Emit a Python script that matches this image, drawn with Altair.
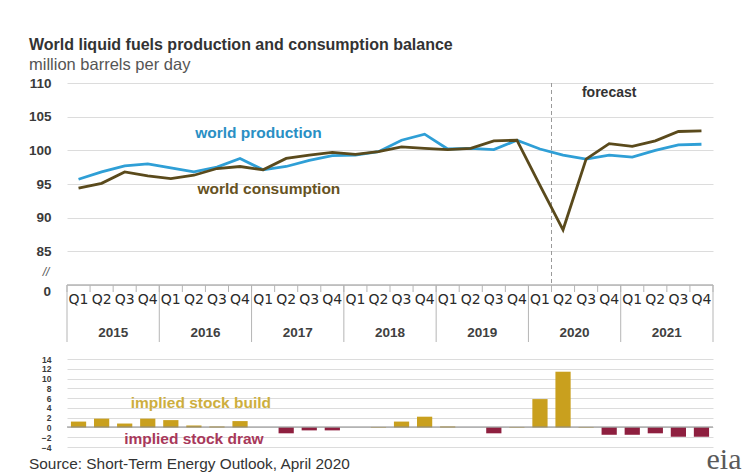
import altair as alt
import pandas as pd

# ---------------- data ----------------
years = [2015, 2016, 2017, 2018, 2019, 2020, 2021]
quarter_names = ["Q1", "Q2", "Q3", "Q4"]

production = [95.7, 96.8, 97.7, 98.0,
              97.4, 96.8, 97.5, 98.8,
              97.1, 97.6, 98.5, 99.2,
              99.3, 99.8, 101.5, 102.4,
              100.2, 100.3, 100.1, 101.5,
              100.2, 99.3, 98.7, 99.3,
              99.0, 100.0, 100.8, 100.9]

consumption = [94.4, 95.1, 96.8, 96.2,
               95.8, 96.3, 97.3, 97.6,
               97.1, 98.8, 99.3, 99.7,
               99.4, 99.8, 100.5, 100.3,
               100.1, 100.3, 101.4, 101.5,
               94.8, 88.2, 98.7, 101.0,
               100.6, 101.4, 102.8, 102.9]

balance = [1.2, 1.8, 0.8, 1.8,
           1.5, 0.4, 0.2, 1.3,
           0.0, -1.2, -0.6, -0.6,
           0.0, 0.1, 1.2, 2.2,
           0.2, 0.0, -1.2, 0.1,
           5.8, 11.4, 0.1, -1.5,
           -1.5, -1.2, -1.9, -1.9]

top_ticks = [80, 85, 90, 95, 100, 105, 110]
bottom_ticks = [-4, -2, 0, 2, 4, 6, 8, 10, 12, 14]

forecast_boundary = 20.5  # between 2020 Q1 and 2020 Q2

# colours
BLUE = "#2f9fd6"
BROWN = "#5a4a1c"
GOLD = "#c9a01e"
MAROON = "#8e1f3f"
GRID = "#dcdcdc"
AXIS = "#b5b5b5"
FONT = "Liberation Sans"

n = len(production)
df = pd.DataFrame({
    "i": list(range(n)),
    "q": [quarter_names[k % 4] for k in range(n)],
    "year": [years[k // 4] for k in range(n)],
    "production": production,
    "consumption": consumption,
    "balance": balance,
})
sep_df = pd.DataFrame({"k": list(range(n + 1))})
year_df = pd.DataFrame({"year": years})
one = pd.DataFrame({"a": [0]})

xscale = alt.Scale(domain=[-0.5, n - 0.5], nice=False, zero=False)
X = alt.X("i:Q", scale=xscale, axis=None)

# ---------------- top panel ----------------
ytop_scale = alt.Scale(domain=[80, 110], nice=False, zero=False)
ytop_axis = alt.Axis(values=top_ticks, labelExpr="datum.value == 80 ? '' : datum.label",
                     grid=True, gridColor=GRID, domain=False, ticks=False, title=None,
                     labelFontSize=13.5, labelFontWeight="bold", labelColor="#3a3a3a",
                     labelPadding=16, labelFont=FONT)
ytop = alt.Y("value:Q", scale=ytop_scale, axis=ytop_axis)

base = alt.Chart(df)

lines = base.transform_fold(["production", "consumption"], as_=["series", "value"]).mark_line(
    strokeWidth=2.8
).encode(
    x=X, y=ytop,
    color=alt.Color("series:N", scale=alt.Scale(domain=["production", "consumption"],
                                                range=[BLUE, BROWN]), legend=None),
)

axis_line = alt.Chart(one).mark_rule(color=AXIS, strokeWidth=1.5).encode(
    x=alt.value(0), x2=alt.value(646), y=alt.value(202)
)

forecast_rule = alt.Chart(one).transform_calculate(fx=str(forecast_boundary)).mark_rule(
    color="#9a9a9a", strokeDash=[4, 3], strokeWidth=1
).encode(x=alt.X("fx:Q", scale=xscale, axis=None), y=alt.value(0), y2=alt.value(202))

q_ticks = alt.Chart(sep_df).transform_calculate(b="datum.k - 0.5").mark_rule(
    color=AXIS, strokeWidth=1
).encode(x=alt.X("b:Q", scale=xscale, axis=None), y=alt.value(202), y2=alt.value(209))

year_ticks = alt.Chart(sep_df).transform_filter("datum.k % 4 == 0").transform_calculate(
    b="datum.k - 0.5").mark_rule(color=AXIS, strokeWidth=1).encode(
    x=alt.X("b:Q", scale=xscale, axis=None), y=alt.value(202), y2=alt.value(259))

q_labels = base.mark_text(fontSize=14, font="DejaVu Sans", color="#2a2a2a", baseline="middle").encode(
    x=X, y=alt.value(217), text="q:N")

year_labels = alt.Chart(year_df).transform_calculate(xc="(datum.year - 2015) * 4 + 1.5").mark_text(
    fontSize=13.5, font=FONT, fontWeight="bold", color="#404040", baseline="middle").encode(
    x=alt.X("xc:Q", scale=xscale, axis=None), y=alt.value(250), text="year:N")


def note(text, xv, yv, color, yfield, yscale, yaxis, size=15.5, weight="bold"):
    return alt.Chart(one).transform_calculate(nx=str(xv), **{yfield: str(yv)}).mark_text(
        text=text, color=color, fontSize=size, fontWeight=weight, font=FONT, baseline="middle"
    ).encode(x=alt.X("nx:Q", scale=xscale, axis=None),
             y=alt.Y(f"{yfield}:Q", scale=yscale, axis=yaxis))


t_prod = note("world production", 7.8, 102.6, "#2a8fc4", "value", ytop_scale, ytop_axis)
t_cons = note("world consumption", 8.25, 94.25, "#665222", "value", ytop_scale, ytop_axis)
t_fore = note("forecast", 23.0, 108.5, "#333333", "value", ytop_scale, ytop_axis, size=14)

title = alt.Chart(one).mark_text(
    text="World liquid fuels production and consumption balance", align="left", baseline="middle",
    fontSize=16, fontWeight="bold", color="#333333", font=FONT
).encode(x=alt.value(-38), y=alt.value(-38))

subtitle = alt.Chart(one).mark_text(
    text="million barrels per day", align="left", baseline="middle",
    fontSize=16.5, color="#555555", font=FONT
).encode(x=alt.value(-38), y=alt.value(-18))

breakmark = alt.Chart(one).mark_text(
    text="//", align="center", baseline="middle", fontSize=12, fontStyle="italic",
    color="#555555", font=FONT
).encode(x=alt.value(-21), y=alt.value(189))

zero_label = alt.Chart(one).mark_text(
    text="0", align="right", baseline="middle", fontSize=13.5, fontWeight="bold",
    color="#3a3a3a", font=FONT
).encode(x=alt.value(-16), y=alt.value(209))

top = alt.layer(
    axis_line, forecast_rule, lines, q_ticks, year_ticks, q_labels, year_labels,
    t_prod, t_cons, t_fore, title, subtitle, breakmark, zero_label
).properties(width=646, height=202)

# ---------------- bottom panel ----------------
ybot_scale = alt.Scale(domain=[-4, 14], nice=False, zero=False)
ybot_axis = alt.Axis(values=bottom_ticks, grid=True, gridColor=GRID, domain=False, ticks=False,
                     title=None, labelFontSize=8.5, labelFontWeight="bold", labelColor="#3a3a3a",
                     labelPadding=16, labelFont=FONT)
ybot = alt.Y("balance:Q", scale=ybot_scale, axis=ybot_axis)

bars = base.transform_calculate(x0="datum.i - 0.33", x1="datum.i + 0.33", z="0").mark_bar().encode(
    x=alt.X("x0:Q", scale=xscale, axis=None), x2="x1:Q",
    y=ybot, y2="z:Q",
    color=alt.condition("datum.balance >= 0", alt.value(GOLD), alt.value(MAROON)),
)

zero_line = alt.Chart(one).mark_rule(color="#8a8a8a", strokeWidth=1.2).encode(
    x=alt.value(0), x2=alt.value(646), y=alt.value(68)
)

t_build = note("implied stock  build", 5.3, 5.1, "#cdae3e", "balance", ybot_scale, ybot_axis)
t_draw = note("implied stock draw", 5.0, -2.3, "#a8385a", "balance", ybot_scale, ybot_axis)

source = alt.Chart(one).mark_text(
    text="Source: Short-Term Energy Outlook, April 2020", align="left", baseline="middle",
    fontSize=15.4, color="#333333", font=FONT
).encode(x=alt.value(-38), y=alt.value(105))

eia = alt.Chart(one).mark_text(
    text="eia", align="center", baseline="alphabetic", fontSize=30, color="#5a5a5a",
    font="Liberation Serif"
).encode(x=alt.value(657), y=alt.value(110))

bottom = alt.layer(
    bars, zero_line, t_build, t_draw, source, eia
).properties(width=646, height=88)

chart = alt.vconcat(top, bottom, spacing=12).properties(
    padding={"left": 28, "top": 37, "right": 0, "bottom": 0}
).configure_view(stroke=None)

chart.save("out.html", embed_options={"renderer": "svg", "actions": False})
